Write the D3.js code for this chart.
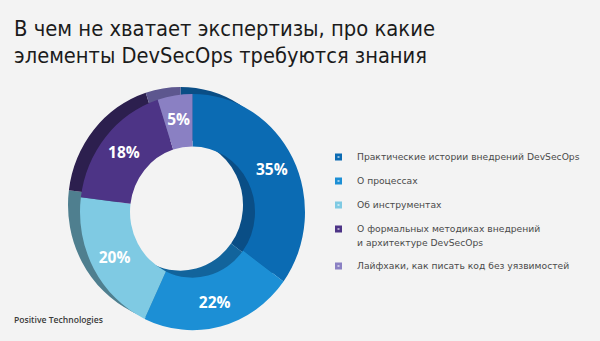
<!DOCTYPE html>
<html><head><meta charset="utf-8">
<script src="https://cdn.jsdelivr.net/npm/d3@7"></script>
<style>body{margin:0;background:#f3f3f3;}svg{display:block;}</style>
</head><body>
<svg id="c" width="600" height="341"></svg>
<script>
const titleLines = ["В чем не хватает экспертизы, про какие", "элементы DevSecOps требуются знания"];
const titleWidths = [421, 413];
const categories = [
  ["Практические истории внедрений DevSecOps"],
  ["О процессах"],
  ["Об инструментах"],
  ["О формальных методиках внедрений", "и архитектуре DevSecOps"],
  ["Лайфхаки, как писать код без уязвимостей"]
];
const values = [35, 22, 20, 18, 5];
const labels = ["35%", "22%", "20%", "18%", "5%"];
const frontColors = ["#0b6bb3", "#1c8fd5", "#7fcae3", "#4d3486", "#8a80c3"];
const backColors = ["#0a4e86", "#12649c", "#4f7f8f", "#2c1f4e", "#5d578f"];
const source = "Positive Technologies";

const svg = d3.select("#c");
svg.append("rect").attr("width",600).attr("height",341).attr("fill","#f3f3f3");

titleLines.forEach((t,i)=>svg.append("text").attr("x",14).attr("y",36+i*27)
  .attr("font-family","DejaVu Sans").attr("font-size",21.5).attr("fill","#1b1b1b")
  .attr("textLength",titleWidths[i]).attr("lengthAdjust","spacingAndGlyphs").text(t));

const cx = 192.5, cy = 212, R = 112.5, r = 62.5, sy = 1.05;
const pie = d3.pie().sort(null).value(d=>d);
const arcs = pie(values);
const arc = d3.arc().innerRadius(r).outerRadius(R);

const back = svg.append("g").attr("transform",`translate(${cx-12},${cy-7}) scale(1,${sy})`);
back.selectAll("path").data(arcs).join("path").attr("d",arc).attr("fill",(d,i)=>backColors[i]);

const front = svg.append("g").attr("transform",`translate(${cx},${cy}) scale(1,${sy})`);
front.selectAll("path").data(arcs).join("path").attr("d",arc).attr("fill",(d,i)=>frontColors[i]);

const labArc = d3.arc().innerRadius(66).outerRadius(112);
svg.append("g").selectAll("text").data(arcs).join("text")
  .attr("x",d=>cx+labArc.centroid(d)[0])
  .attr("y",d=>cy+labArc.centroid(d)[1]*sy)
  .attr("dy","0.36em").attr("text-anchor","middle")
  .attr("font-family","Open Sans").attr("font-weight",700).attr("font-size",15.5)
  .attr("fill","#ffffff").text((d,i)=>labels[i]);

const rowsY = [157, 181, 205, 229, 266];
const lg = svg.append("g");
categories.forEach((lines,i)=>{
  const y = rowsY[i];
  lg.append("rect").attr("x",335).attr("y",y-3.5).attr("width",7).attr("height",7).attr("fill",frontColors[i]);
  lg.append("rect").attr("x",337.5).attr("y",y-1).attr("width",2).attr("height",2).attr("fill","#ffffff").attr("opacity",0.55);
  const t = lg.append("text").attr("font-family","DejaVu Sans").attr("font-size",9.2).attr("fill","#4a4a4a");
  lines.forEach((l,j)=>t.append("tspan").attr("x",357).attr("y",y+j*14).attr("dy","0.35em").text(l));
});

svg.append("text").attr("x",14).attr("y",323).attr("font-family","Open Sans").attr("font-weight",600)
  .attr("font-size",8.6).attr("fill","#3a3a3a").text(source);
</script>
</body></html>
